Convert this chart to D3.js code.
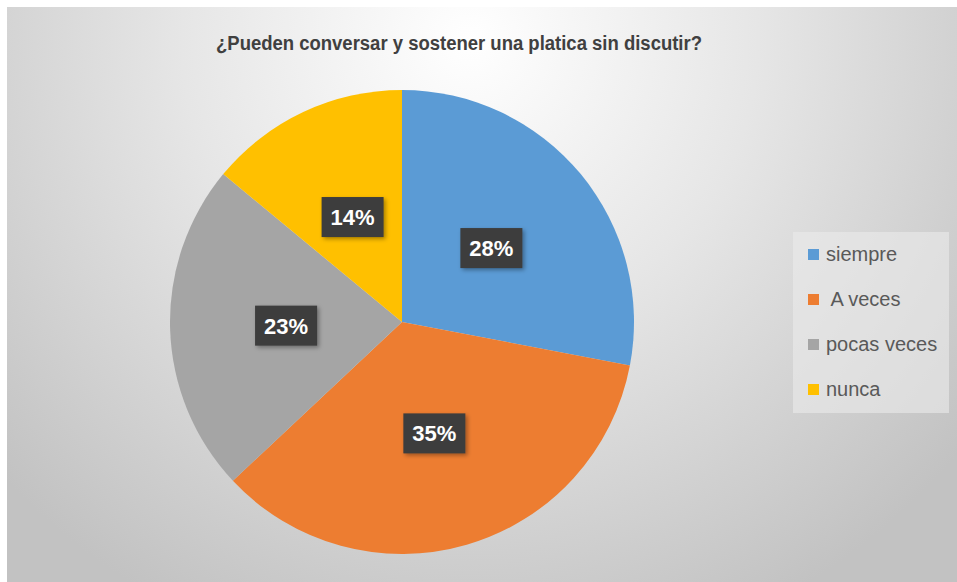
<!DOCTYPE html>
<html>
  <head>
    <meta charset="utf-8">
    <script src="https://d3js.org/d3.v7.min.js"></script>
    <style>
      body { margin: 0; background: #fff; }
      text { font-family: "Liberation Sans", Arial, sans-serif; }
    </style>
  </head>
<body>
  <script type="text/javascript">
    // chart data
    var categories = ["siempre", " A veces", "pocas veces", "nunca"];
    var values = [28, 35, 23, 14];
    var colors = ["#5b9bd5", "#ed7d31", "#a5a5a5", "#ffc000"];
    var title = "¿Pueden conversar y sostener una platica sin discutir?";

    var width = 957, height = 582;

    var svg = d3.select("body").append("svg")
        .attr("width", width)
        .attr("height", height);

    var defs = svg.append("defs");

    // background gradient like the excel chart area
    var bg = defs.append("radialGradient")
        .attr("id", "bg")
        .attr("gradientUnits", "userSpaceOnUse")
        .attr("cx", 470).attr("cy", 40)
        .attr("r", 640);
    bg.append("stop").attr("offset", "0%").attr("stop-color", "#ffffff");
    bg.append("stop").attr("offset", "45%").attr("stop-color", "#e6e6e6");
    bg.append("stop").attr("offset", "100%").attr("stop-color", "#c2c2c2");

    var shadow = defs.append("filter").attr("id", "shadow")
        .attr("x", "-20%").attr("y", "-20%").attr("width", "150%").attr("height", "150%");
    shadow.append("feDropShadow")
        .attr("dx", 2).attr("dy", 2).attr("stdDeviation", 2)
        .attr("flood-color", "#000").attr("flood-opacity", 0.35);

    svg.append("rect")
        .attr("x", 7).attr("y", 7)
        .attr("width", width - 7).attr("height", height - 7)
        .attr("fill", "url(#bg)");

    // title
    svg.append("text")
        .attr("x", 459)
        .attr("y", 50)
        .attr("text-anchor", "middle")
        .attr("font-size", 20)
        .attr("font-weight", "bold")
        .attr("fill", "#404040")
        .attr("textLength", 486)
        .attr("lengthAdjust", "spacingAndGlyphs")
        .text(title);

    // pie
    var cx = 402, cy = 322, radius = 232;
    var total = d3.sum(values);
    var pct = d3.format(".0%");

    var pie = d3.pie().sort(null).value(function(d) { return d; });
    var arc = d3.arc().innerRadius(0).outerRadius(radius);
    var labelArc = d3.arc().innerRadius(radius * 0.5).outerRadius(radius * 0.5);

    var g = svg.append("g").attr("transform", "translate(" + cx + "," + cy + ")");

    var arcs = pie(values);

    g.selectAll("path.slice")
        .data(arcs)
      .enter().append("path")
        .attr("class", "slice")
        .attr("d", arc)
        .attr("fill", function(d, i) { return colors[i]; });

    var lab = g.selectAll("g.label")
        .data(arcs)
      .enter().append("g")
        .attr("class", "label")
        .attr("transform", function(d) {
          var c = labelArc.centroid(d);
          return "translate(" + c[0] + "," + c[1] + ")";
        });

    lab.append("rect")
        .attr("x", -31).attr("y", -20)
        .attr("width", 62).attr("height", 40)
        .attr("fill", "#3c3c3c")
        .attr("filter", "url(#shadow)");

    lab.append("text")
        .attr("text-anchor", "middle")
        .attr("dy", "0.36em")
        .attr("font-size", 22)
        .attr("font-weight", "bold")
        .attr("fill", "#ffffff")
        .text(function(d) { return pct(d.value / total); });

    // legend
    var legend = svg.append("g");
    legend.append("rect")
        .attr("x", 793).attr("y", 232)
        .attr("width", 156).attr("height", 181)
        .attr("fill", "#ebebeb")
        .attr("opacity", 0.6);

    var item = legend.selectAll("g.item")
        .data(categories)
      .enter().append("g")
        .attr("class", "item")
        .attr("transform", function(d, i) { return "translate(808," + (254 + i * 45) + ")"; });

    item.append("rect")
        .attr("x", 0).attr("y", -5)
        .attr("width", 11).attr("height", 11)
        .attr("fill", function(d, i) { return colors[i]; });

    item.append("text")
        .attr("x", 18)
        .attr("dy", "0.36em")
        .attr("font-size", 20)
        .attr("fill", "#595959")
        .style("white-space", "pre")
        .text(function(d) { return d; });
  </script>
</body>
</html>
